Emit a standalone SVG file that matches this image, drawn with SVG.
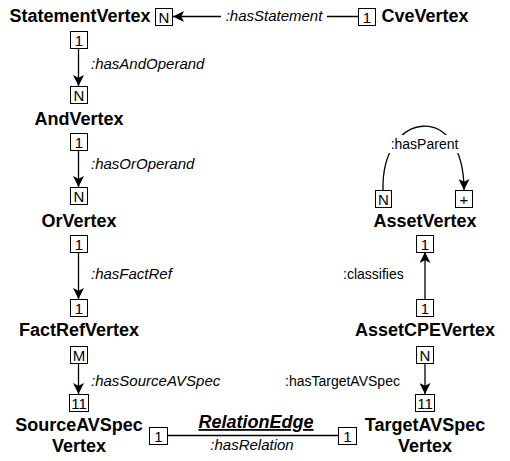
<svg xmlns="http://www.w3.org/2000/svg" width="510" height="461" viewBox="0 0 510 461">
<defs>
<marker id="arr" viewBox="0 0 10 10" refX="10" refY="5" markerWidth="11" markerHeight="11" markerUnits="userSpaceOnUse" orient="auto">
<path d="M0,0 L10,5 L0,10 L2.5,5 Z" fill="#000"/>
</marker>
<style>
.v{font-family:"Liberation Sans",Arial,sans-serif;font-weight:bold;font-size:18px;fill:#000;text-anchor:middle}
.b{fill:#fff;stroke:#000;stroke-width:1}
.bt{font-family:"Liberation Sans",Arial,sans-serif;font-size:15px;fill:#000;text-anchor:middle}
.li{font-family:"Liberation Sans",Arial,sans-serif;font-size:15px;font-style:italic;fill:#000}
.ln{font-family:"Liberation Sans",Arial,sans-serif;font-size:14px;fill:#000}
.c{fill:none;stroke:#000;stroke-width:1.3}
</style>
</defs>
<rect width="510" height="461" fill="#fff"/>
<g id="connectors">
<line class="c" x1="358" y1="16.5" x2="173" y2="16.5" marker-end="url(#arr)"/>
<rect x="221" y="6" width="106" height="20" fill="#fff"/>
<text class="li" x="274" y="21" text-anchor="middle">:hasStatement</text>
<line class="c" x1="78.5" y1="48" x2="78.5" y2="86" marker-end="url(#arr)"/>
<text class="li" x="91" y="69">:hasAndOperand</text>
<line class="c" x1="78.5" y1="150" x2="78.5" y2="187" marker-end="url(#arr)"/>
<text class="li" x="91" y="169">:hasOrOperand</text>
<line class="c" x1="78.5" y1="252" x2="78.5" y2="299" marker-end="url(#arr)"/>
<text class="li" x="91" y="279">:hasFactRef</text>
<line class="c" x1="78.5" y1="363" x2="78.5" y2="394" marker-end="url(#arr)"/>
<text class="li" x="91" y="386">:hasSourceAVSpec</text>
<line class="c" x1="167" y1="435.5" x2="338" y2="435.5"/>
<text x="256" y="428" font-family="Liberation Sans,Arial,sans-serif" font-size="18" font-weight="bold" font-style="italic" text-decoration="underline" text-anchor="middle">RelationEdge</text>
<text class="li" x="252" y="450" text-anchor="middle" font-size="14.5">:hasRelation</text>
<line class="c" x1="425" y1="299" x2="425" y2="252" marker-end="url(#arr)"/>
<text class="ln" x="343" y="279" font-size="14.5">:classifies</text>
<line class="c" x1="425" y1="363" x2="425" y2="394" marker-end="url(#arr)"/>
<text class="ln" x="285" y="386">:hasTargetAVSpec</text>
<path class="c" d="M383,190 C381,110 464,100 464,190" marker-end="url(#arr)"/>
<rect x="387" y="135" width="75" height="18" fill="#fff"/>
<text class="ln" x="424.5" y="149" text-anchor="middle" font-size="15">:hasParent</text>
</g>
<g id="StatementVertex">
<text class="v" x="80" y="22">StatementVertex</text>
<rect class="b" x="155.5" y="8.5" width="17" height="17"/><text class="bt" x="164" y="22.5">N</text>
<rect class="b" x="70.5" y="31.5" width="17" height="17"/><text class="bt" x="79" y="45.5">1</text>
</g>
<g id="CveVertex">
<text class="v" x="425" y="22">CveVertex</text>
<rect class="b" x="358.5" y="8.5" width="17" height="17"/><text class="bt" x="367" y="22.5">1</text>
</g>
<g id="AndVertex">
<rect class="b" x="70.5" y="86.5" width="17" height="17"/><text class="bt" x="79" y="100.5">N</text>
<text class="v" x="79" y="125">AndVertex</text>
<rect class="b" x="70.5" y="133.5" width="17" height="17"/><text class="bt" x="79" y="147.5">1</text>
</g>
<g id="OrVertex">
<rect class="b" x="70.5" y="187.5" width="17" height="17"/><text class="bt" x="79" y="201.5">N</text>
<text class="v" x="79" y="227">OrVertex</text>
<rect class="b" x="70.5" y="235.5" width="17" height="17"/><text class="bt" x="79" y="249.5">1</text>
</g>
<g id="FactRefVertex">
<rect class="b" x="70.5" y="299.5" width="17" height="17"/><text class="bt" x="79" y="313.5">1</text>
<text class="v" x="79" y="336">FactRefVertex</text>
<rect class="b" x="70.5" y="346.5" width="17" height="17"/><text class="bt" x="79" y="360.5">M</text>
</g>
<g id="SourceAVSpecVertex">
<rect class="b" x="69.5" y="394.5" width="19" height="17"/><text class="bt" x="79" y="408.5">11</text>
<text class="v" x="79" y="431">SourceAVSpec</text>
<text class="v" x="79" y="452">Vertex</text>
<rect class="b" x="149.5" y="427.5" width="18" height="17"/><text class="bt" x="158.5" y="441.5">1</text>
</g>
<g id="TargetAVSpecVertex">
<rect class="b" x="415.5" y="394.5" width="19" height="17"/><text class="bt" x="425" y="408.5">11</text>
<text class="v" x="425" y="431">TargetAVSpec</text>
<text class="v" x="425" y="452">Vertex</text>
<rect class="b" x="338.5" y="427.5" width="18" height="17"/><text class="bt" x="347.5" y="441.5">1</text>
</g>
<g id="AssetVertex">
<rect class="b" x="375.5" y="190.5" width="16" height="17"/><text class="bt" x="383.5" y="204.5">N</text>
<rect class="b" x="455.5" y="190.5" width="17" height="17"/><text class="bt" x="464" y="204.5">+</text>
<text class="v" x="425" y="227">AssetVertex</text>
<rect class="b" x="416.5" y="235.5" width="17" height="17"/><text class="bt" x="425" y="249.5">1</text>
</g>
<g id="AssetCPEVertex">
<rect class="b" x="416.5" y="299.5" width="17" height="17"/><text class="bt" x="425" y="313.5">1</text>
<text class="v" x="425" y="336">AssetCPEVertex</text>
<rect class="b" x="416.5" y="346.5" width="17" height="17"/><text class="bt" x="425" y="360.5">N</text>
</g>
</svg>
